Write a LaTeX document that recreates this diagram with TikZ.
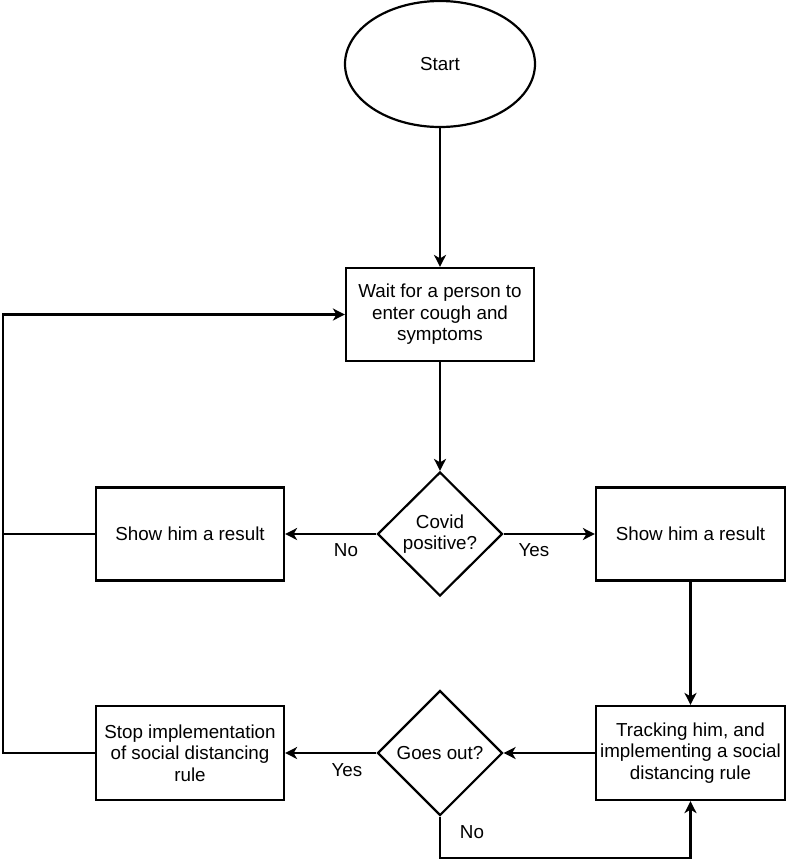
\documentclass[tikz,border=0pt]{standalone}
\usepackage{fontspec}
\setmainfont{Liberation Sans}
\usetikzlibrary{shapes.geometric,arrows.meta}
\begin{document}
\begin{tikzpicture}[x=1pt,y=-1pt,line width=2.2pt,
  >={Stealth[length=12pt,width=12pt,inset=3.5pt]},
  font=\fontsize{18.8}{21.5}\selectfont,
  stepbox/.style={draw,rectangle,minimum width=188pt,minimum height=93pt,align=center,inner sep=0pt},
  choice/.style={draw,diamond,minimum width=125pt,minimum height=124pt,align=center,inner sep=0pt}]
  \useasboundingbox (0,0) rectangle (787,865);
  \node[draw,ellipse,minimum width=190pt,minimum height=126pt] (start) at (440,64) {Start};
  \node[stepbox] (wait) at (440,314.5) {Wait for a person to\\enter cough and\\symptoms};
  \node[choice] (covid) at (440,534) {Covid\\positive?};
  \node[stepbox] (leftres) at (190,534) {Show him a result};
  \node[stepbox,minimum width=189pt] (rightres) at (690.5,534) {Show him a result};
  \node[stepbox,minimum width=189pt,minimum height=94pt] (track) at (690.5,753) {Tracking him, and\\implementing a social\\distancing rule};
  \node[choice,minimum height=125pt] (goes) at (440,753) {Goes out?};
  \node[stepbox,minimum height=94pt] (stopimp) at (190,753) {Stop implementation\\of social distancing\\rule};
  \coordinate (rail) at (3,314.5);
  \coordinate (floor) at (440,858);
  \draw[->] (start) -- (wait);
  \draw[->] (wait) -- (covid);
  \draw[->] (covid) -- (leftres);
  \draw[->] (covid) -- (rightres);
  \draw[->] (rightres) -- (track);
  \draw[->] (track) -- (goes);
  \draw[->] (goes) -- (stopimp);
  \draw[->] (goes.south) -- (floor) -| (track.south);
  \draw[->] (stopimp.west) -- (rail |- stopimp.west) |- (wait.west);
  \draw (leftres.west) -- (rail |- leftres.west);
  \node (nolbl) at (346,550) {No};
  \node (yeslbl) at (534,550) {Yes};
  \node (yeslbl2) at (347,770) {Yes};
  \node (nolbl2) at (472,832) {No};
\end{tikzpicture}
\end{document}
